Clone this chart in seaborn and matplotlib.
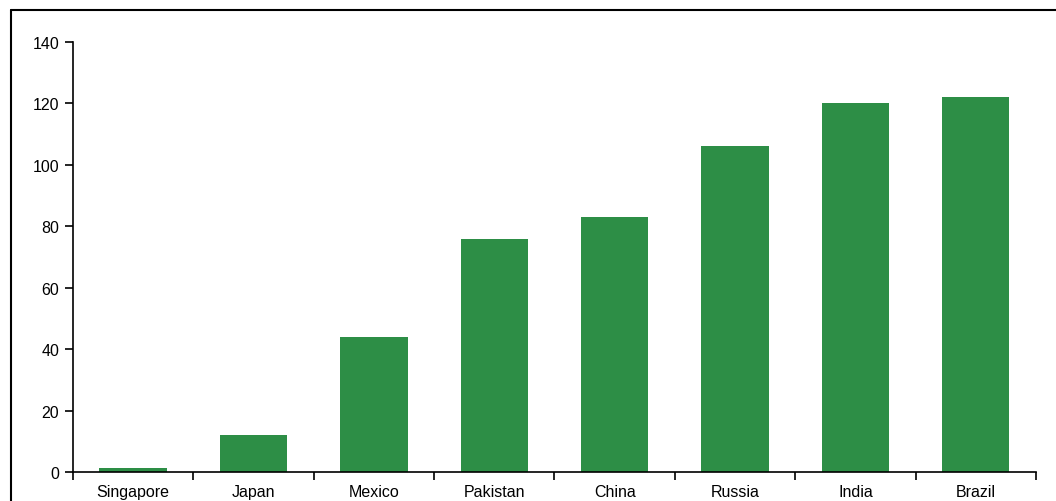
import numpy as np
import pandas as pd
import matplotlib
matplotlib.use("Agg")
import matplotlib.pyplot as plt
from matplotlib.lines import Line2D
import seaborn as sns

countries = ["Singapore", "Japan", "Mexico", "Pakistan", "China", "Russia", "India", "Brazil"]
values = [1.2, 12, 44, 76, 83, 106, 120, 122]

df = pd.DataFrame({"country": countries, "value": values})

sns.set_style("white")
plt.rcParams['font.family'] = ['Liberation Sans', 'DejaVu Sans']
plt.rcParams['text.color'] = 'black'
plt.rcParams['xtick.color'] = 'black'
plt.rcParams['ytick.color'] = 'black'

fig = plt.figure(figsize=(10.56, 5.02), dpi=100)
ax = fig.add_axes([0.0691, 0.0578, 0.9119, 0.8565])

sns.barplot(data=df, x="country", y="value", color="#2d8e46", width=0.56,
            saturation=1, linewidth=0, ax=ax)

ax.set_xlim(-0.5, len(countries) - 0.5)
ax.set_ylim(0, 140)
ax.set_yticks(np.arange(0, 141, 20))
ax.set_xlabel("")
ax.set_ylabel("")

for s in ["top", "right"]:
    ax.spines[s].set_visible(False)
for s in ["left", "bottom"]:
    ax.spines[s].set_color("black")
    ax.spines[s].set_linewidth(1.2)

ax.tick_params(axis="y", direction="out", length=6, width=1.2, colors="black",
               labelsize=11.5, left=True, pad=4)
ax.tick_params(axis="x", which="major", length=0, labelsize=11.5, pad=9,
               colors="black")
ax.set_xticks(np.arange(-0.5, len(countries)), minor=True)
ax.tick_params(axis="x", which="minor", direction="out", length=6, width=1.2,
               color="black", bottom=True)

# outer frame (cropped at right and bottom)
fig.add_artist(Line2D([11 / 1056, 1.01], [1 - 11 / 502, 1 - 11 / 502],
                      transform=fig.transFigure, color="black", lw=1.5))
fig.add_artist(Line2D([11 / 1056, 11 / 1056], [-0.01, 1 - 11 / 502],
                      transform=fig.transFigure, color="black", lw=1.5))

fig.savefig("out.png", dpi=100)
